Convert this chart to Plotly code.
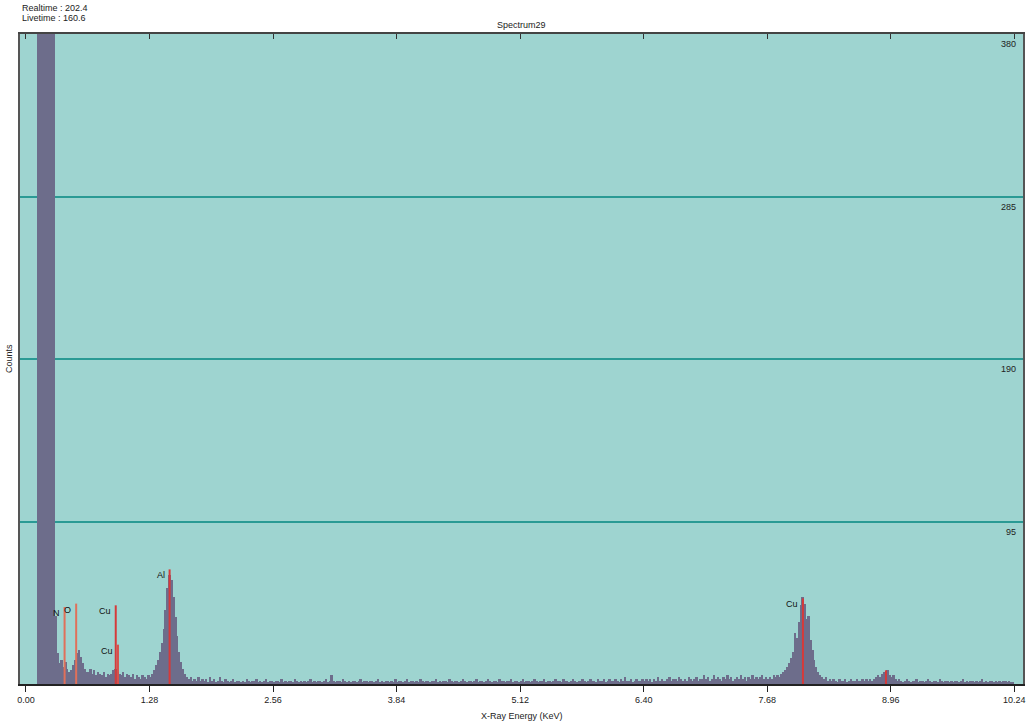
import plotly.graph_objects as go

# ---------------- data ----------------
bin_width = 0.02  # keV per channel
counts = [
    0, 0, 0, 0, 0, 0, 520, 2400, 3100, 3000, 2700, 2200, 1600, 1000, 600, 40,       # 0.00
    18, 12, 14, 10, 13, 9, 7, 8, 11, 14, 18, 20, 16, 12, 9, 7,                      # 0.32
    7, 9, 6, 8, 5, 7, 6, 5, 7, 4, 6, 5, 6, 8, 9, 7,                                  # 0.64
    6, 5, 7, 4, 6, 5, 4, 6, 3, 5, 4, 3, 5, 4, 3, 5,                                  # 0.96
    4, 6, 8, 11, 14, 19, 24, 32, 43, 56, 64, 61, 51, 39, 28, 19,                     # 1.28
    13, 9, 6, 4, 3, 4, 2, 3, 2, 4, 2, 3, 2, 3, 1, 4,                                 # 1.60
    2, 3, 1, 2, 4, 2, 1, 3, 2, 1, 2, 3, 1, 2, 2, 1,                                  # 1.92
    2, 1, 3, 2, 1, 2, 2, 3, 1, 2, 1, 2, 3, 1, 2, 2,                                  # 2.24
    1, 2, 2, 1, 3, 1, 2, 1, 2, 2, 1, 3, 2, 1, 2, 1,                                  # 2.56
    2, 1, 2, 3, 1, 2, 1, 2, 2, 1, 2, 3, 1, 2, 5, 2,                                  # 2.88
    1, 2, 2, 1, 3, 2, 1, 2, 1, 2, 2, 1, 2, 3, 1, 2,                                  # 3.20
    2, 1, 2, 2, 1, 2, 3, 1, 2, 1, 2, 2, 1, 2, 1, 3,                                  # 3.52
    1, 2, 2, 1, 2, 3, 1, 2, 2, 1, 2, 1, 3, 2, 1, 2,                                  # 3.84
    2, 1, 2, 2, 3, 1, 2, 1, 2, 2, 1, 3, 2, 1, 2, 2,                                  # 4.16
    1, 2, 3, 2, 1, 2, 2, 1, 2, 3, 1, 2, 2, 1, 2, 3,                                  # 4.48
    2, 1, 2, 2, 1, 3, 2, 2, 1, 2, 2, 3, 1, 2, 2, 1,                                  # 4.80
    2, 3, 1, 2, 2, 1, 2, 3, 2, 1, 2, 2, 3, 1, 2, 2,                                  # 5.12
    1, 2, 3, 2, 2, 1, 3, 2, 2, 1, 2, 3, 2, 1, 2, 2,                                  # 5.44
    3, 2, 1, 2, 3, 2, 2, 1, 3, 2, 2, 3, 1, 2, 3, 2,                                  # 5.76
    2, 3, 2, 1, 3, 2, 4, 2, 2, 3, 1, 2, 3, 2, 2, 3,                                  # 6.08
    2, 3, 2, 3, 1, 3, 2, 4, 2, 3, 2, 2, 3, 4, 2, 3,                                  # 6.40
    3, 2, 4, 3, 2, 3, 2, 4, 3, 2, 3, 4, 2, 3, 3, 5,                                  # 6.72
    3, 4, 2, 3, 5, 3, 4, 3, 2, 4, 3, 5, 3, 4, 2, 3,                                  # 7.04
    4, 3, 5, 3, 4, 2, 4, 3, 5, 3, 4, 3, 4, 5, 3, 4,                                  # 7.36
    3, 4, 3, 5, 4, 5, 4, 6, 7, 8, 10, 12, 15, 19, 30, 27,                            # 7.68
    36, 46, 51, 47, 38, 40, 26, 20, 14, 10, 7, 5, 4, 3, 4, 2,                        # 8.00
    3, 2, 3, 2, 1, 3, 2, 2, 3, 1, 2, 3, 2, 2, 3, 2,                                  # 8.32
    2, 3, 2, 3, 2, 3, 2, 3, 4, 5, 4, 6, 7, 6, 8, 5,                                  # 8.64
    4, 5, 3, 2, 3, 2, 1, 2, 3, 2, 1, 2, 2, 3, 1, 2,                                  # 8.96
    2, 1, 2, 3, 2, 1, 2, 2, 1, 3, 2, 1, 2, 2, 1, 2,                                  # 9.28
    1, 2, 2, 1, 2, 3, 1, 2, 1, 2, 2, 1, 2, 1, 2, 3,                                  # 9.60
    1, 2, 1, 2, 2, 1, 2, 1, 2, 1, 2, 2, 1, 2, 1, 1,                                  # 9.92
]
energies = [round(i * bin_width + bin_width / 2, 3) for i in range(len(counts))]

line_labels = ["N", "O", "Cu", "Cu", "Al", "Cu", ""]
line_energy = [0.40, 0.52, 0.93, 0.953, 1.488, 8.05, 8.91]
line_height = [45, 47, 46, 23, 67, 50, 8]
line_colors = ["#e0705a", "#e0705a", "#d63a3a", "#d8504a", "#d63a3a", "#d63a3a", "#d63a3a"]

x_ticks = [0.00, 1.28, 2.56, 3.84, 5.12, 6.40, 7.68, 8.96, 10.24]
y_ticks = [95, 190, 285, 380]

title_text = "Spectrum29"
realtime_text = "Realtime : 202.4"
livetime_text = "Livetime : 160.6"
x_title = "X-Ray Energy (KeV)"
y_title = "Counts"

# ---------------- figure ----------------
FONT = "Liberation Sans"
TXT = "#222222"

fig = go.Figure()
fig.add_trace(go.Bar(
    x=energies, y=counts, width=bin_width,
    marker=dict(color="#6d6d8b", line=dict(width=0)),
    hoverinfo="x+y", showlegend=False,
))

for e, h, c in zip(line_energy, line_height, line_colors):
    fig.add_trace(go.Scatter(
        x=[e, e], y=[0, h], mode="lines",
        line=dict(color=c, width=2),
        hoverinfo="skip", showlegend=False,
    ))

# dummy trace to activate top tick axis
fig.add_trace(go.Scatter(x=[x_ticks[0]], y=[None], xaxis="x2", mode="markers",
                         hoverinfo="skip", showlegend=False))

annotations = []
for lab, e, h in zip(line_labels, line_energy, line_height):
    if not lab:
        continue
    annotations.append(dict(
        x=e, y=h, xref="x", yref="y", text=lab, showarrow=False,
        xanchor="right", yanchor="top", xshift=-3, yshift=1,
        font=dict(family=FONT, size=9, color="#111111"),
    ))

# y tick labels drawn inside the plot, right-aligned just below each gridline
for v in y_ticks:
    annotations.append(dict(
        x=1, y=v, xref="paper", yref="y", text=str(v), showarrow=False,
        xanchor="right", yanchor="top", xshift=-5, yshift=-3,
        font=dict(family=FONT, size=9, color=TXT),
    ))

annotations += [
    dict(x=0, y=1, xref="paper", yref="paper", text=realtime_text, showarrow=False,
         xanchor="left", yanchor="bottom", yshift=19, font=dict(family=FONT, size=9, color=TXT)),
    dict(x=0, y=1, xref="paper", yref="paper", text=livetime_text, showarrow=False,
         xanchor="left", yanchor="bottom", yshift=9, font=dict(family=FONT, size=9, color=TXT)),
    dict(x=0.5, y=1, xref="paper", yref="paper", text=title_text, showarrow=False,
         xanchor="center", yanchor="bottom", yshift=2, font=dict(family=FONT, size=9, color=TXT)),
    dict(x=0.5, y=0, xref="paper", yref="paper", text=x_title, showarrow=False,
         xanchor="center", yanchor="top", yshift=-25, font=dict(family=FONT, size=9, color=TXT)),
    dict(x=0, y=0.5, xref="paper", yref="paper", text=y_title, showarrow=False,
         xanchor="center", yanchor="middle", xshift=-11, textangle=-90,
         font=dict(family=FONT, size=9, color=TXT)),
]

x_range = [-0.062, 10.33]

fig.update_layout(
    width=1036, height=726,
    margin=dict(l=20, r=10, t=34, b=42),
    paper_bgcolor="white",
    plot_bgcolor="#9ed4d0",
    bargap=0,
    showlegend=False,
    annotations=annotations,
    xaxis=dict(
        range=x_range, tickvals=x_ticks, ticktext=[f"{v:.2f}" for v in x_ticks],
        ticks="outside", ticklen=6, tickcolor="#222", tickwidth=1,
        ticklabeloverflow="allow",
        showgrid=False, zeroline=False,
        showline=True, linecolor="#222", linewidth=2,
        tickfont=dict(family=FONT, size=9, color=TXT),
    ),
    xaxis2=dict(
        range=x_range, overlaying="x", side="top", tickvals=x_ticks,
        ticks="inside", ticklen=5, tickcolor="#333", showticklabels=False,
        showgrid=False, zeroline=False, showline=True, linecolor="#444", linewidth=2,
    ),
    yaxis=dict(
        range=[0, 380], side="right", tickvals=y_ticks,
        showticklabels=False, ticks="",
        showgrid=True, gridcolor="#2a9a94", gridwidth=1.5,
        zeroline=False, showline=True, mirror=True, linecolor="#555", linewidth=1.5,
    ),
)

fig.write_html("out.html")
